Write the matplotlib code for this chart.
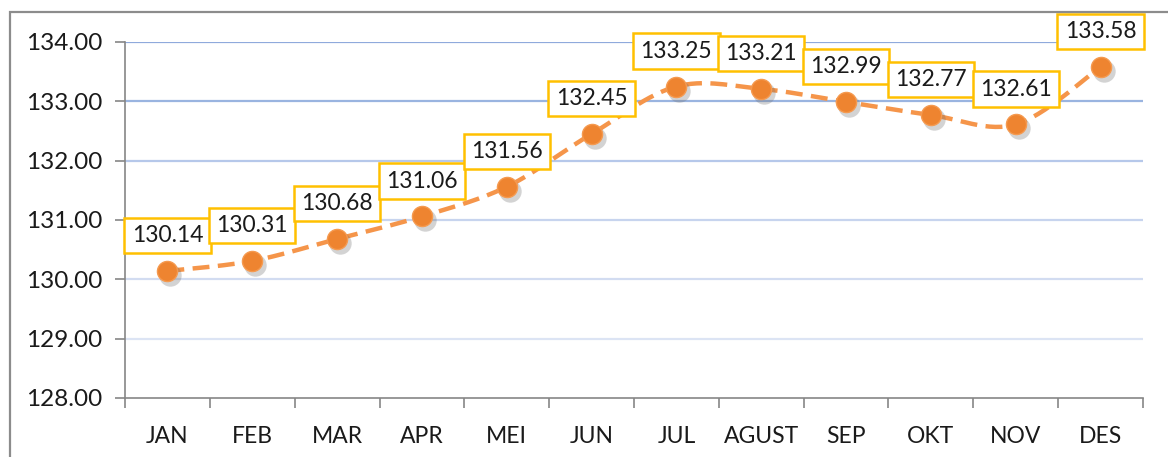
import matplotlib
matplotlib.use("Agg")
import matplotlib.pyplot as plt
import matplotlib.transforms as mtransforms
from matplotlib.patches import Rectangle
import numpy as np

months = ["JAN", "FEB", "MAR", "APR", "MEI", "JUN", "JUL", "AGUST", "SEP", "OKT", "NOV", "DES"]
values = [130.14, 130.31, 130.68, 131.06, 131.56, 132.45, 133.25, 133.21, 132.99, 132.77, 132.61, 133.58]
y_ticks = [128, 129, 130, 131, 132, 133, 134]
grid_colors = ["#E4EAF6", "#DCE4F4", "#D2DCF1", "#C7D4EE", "#B6C8EA", "#9AB4E0", "#8FAADC"]


def smooth(xs, ys, n=30):
    # bezier smoothing between points, like a spreadsheet "smoothed line"
    xs = np.asarray(xs, float)
    ys = np.asarray(ys, float)
    px = np.concatenate([[xs[0]], xs, [xs[-1]]])
    py = np.concatenate([[ys[0]], ys, [ys[-1]]])
    out_x, out_y = [], []
    t = np.linspace(0, 1, n)
    for i in range(1, len(px) - 2):
        p0 = np.array([px[i], py[i]])
        p3 = np.array([px[i + 1], py[i + 1]])
        c1 = p0 + (np.array([px[i + 1], py[i + 1]]) - np.array([px[i - 1], py[i - 1]])) / 6
        c2 = p3 - (np.array([px[i + 2], py[i + 2]]) - np.array([px[i], py[i]])) / 6
        b = ((1 - t) ** 3)[:, None] * p0 + (3 * (1 - t) ** 2 * t)[:, None] * c1 \
            + (3 * (1 - t) * t ** 2)[:, None] * c2 + (t ** 3)[:, None] * p3
        out_x.extend(b[:, 0])
        out_y.extend(b[:, 1])
    return np.array(out_x), np.array(out_y)


plt.rcParams["font.family"] = ["Lato", "DejaVu Sans"]

fig = plt.figure(figsize=(11.68, 4.57), dpi=100)
fig.patches.append(Rectangle((9.5 / 1168, -0.1), 1.2, 1.1 - 12.5 / 457,
                             transform=fig.transFigure, fill=False,
                             edgecolor="#8C8C8C", linewidth=1.6, zorder=0))

ax = fig.add_axes([125 / 1168, 1 - 398 / 457, (1143 - 125) / 1168, (398 - 42) / 457])
x = np.arange(len(months))

for yv, c in zip(y_ticks, grid_colors):
    if yv > y_ticks[0]:
        ax.axhline(yv, color=c, linewidth=1.6, zorder=1)

sx, sy = smooth(x, values)
ax.plot(sx, sy, color="#F5954A", linewidth=3.2, linestyle=(0, (3.8, 1.9)),
        solid_capstyle="butt", zorder=3)

shadow = mtransforms.offset_copy(ax.transData, fig=fig, x=3, y=-4, units="dots")
ax.scatter(x, values, s=260, color="#6F6F6F", alpha=0.3, linewidths=0,
           transform=shadow, zorder=3)
ax.scatter(x, values, s=210, color="#EE8430", edgecolor="#F59A50", linewidth=1, zorder=4)

for xi, v in zip(x, values):
    ax.annotate(f"{v:.2f}", (xi, v), xytext=(0, 25.5), textcoords="offset points",
                ha="center", va="center", fontsize=16.5, color="#1A1A1A",
                bbox=dict(boxstyle="square,pad=0.32", facecolor="white",
                          edgecolor="#FFC000", linewidth=1.8),
                annotation_clip=False, zorder=5)

ax.set_xlim(-0.5, len(months) - 0.5)
ax.set_ylim(128, 134)
ax.set_yticks(y_ticks)
ax.set_yticklabels([f"{v:.2f}" for v in y_ticks])
ax.set_xticks(np.arange(len(months) + 1) - 0.5)
ax.set_xticklabels([])
ax.set_xticks(x, minor=True)
ax.set_xticklabels(months, minor=True)
ax.tick_params(axis="x", which="minor", length=0, pad=20, labelsize=16.5, labelcolor="#1A1A1A")
ax.tick_params(axis="x", which="major", length=7, color="#868686", width=1.2)
ax.tick_params(axis="y", length=7, color="#868686", width=1.2, pad=9,
               labelsize=17.5, labelcolor="#1A1A1A")

for side in ["top", "right"]:
    ax.spines[side].set_visible(False)
for side in ["left", "bottom"]:
    ax.spines[side].set_color("#868686")
    ax.spines[side].set_linewidth(1.2)

fig.savefig("out.png", dpi=100)
